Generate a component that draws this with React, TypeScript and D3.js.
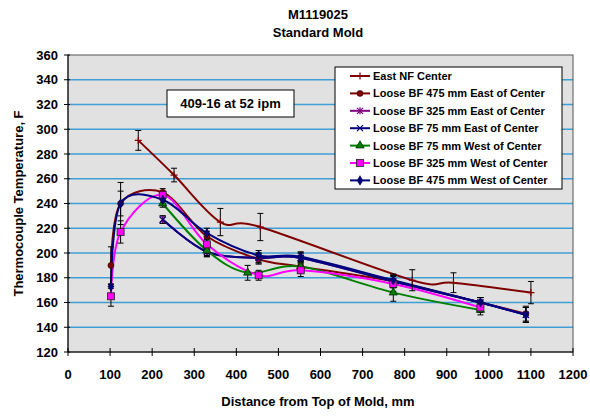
import React from 'react';
import * as d3 from 'd3';

const W = 590;
const H = 416;
const plot = { left: 68, right: 573, top: 55, bottom: 352 };

const xTicks = d3.range(0, 1201, 100);
const yTicks = d3.range(120, 361, 20);

// East NF Center
const eastNfX = [167, 252, 362, 457, 818, 916, 1100];
const eastNfY = [291, 263, 225, 221, 178, 176, 168];
const eastNfErr = [8, 5.5, 11, 11, 8.5, 8, 9];

// Loose BF 475 mm East of Center
const e475X = [102, 125, 225, 330, 453, 553, 773, 980, 1088];
const e475Y = [190, 240, 249, 213.5, 195, 189, 177, 160, 151];
const e475Err = [15, 17, 3, 4, 4, 4, 5, 4, 6];

// Loose BF 325 mm East of Center
const e325X = [225, 330, 453, 553, 773, 980, 1088];
const e325Y = [227, 201, 196, 196, 177, 160, 150];
const e325Err = [3, 4, 4, 4, 5, 4, 6];

// Loose BF 75 mm East of Center
const e75X = [225, 330, 453, 553, 773, 980, 1088];
const e75Y = [227, 201, 196, 196, 177, 160, 150];
const e75Err = [3, 4, 4, 4, 5, 4, 6];

// Loose BF 75 mm West of Center
const w75X = [225, 330, 427, 553, 773, 980];
const w75Y = [240, 202, 184, 189, 168, 154];
const w75Err = [3, 4, 6, 5, 7, 4];

// Loose BF 325 mm West of Center
const w325X = [102, 125, 225, 330, 453, 553, 773, 980];
const w325Y = [165, 217, 247, 207, 182, 186, 175, 156];
const w325Err = [8, 9, 3, 4, 4, 5, 6, 4];

// Loose BF 475 mm West of Center
const w475X = [102, 125, 225, 330, 453, 553, 773, 980, 1088];
const w475Y = [173, 240, 243, 216, 198, 197, 178, 160, 150];
const w475Err = [1.5, 10, 3, 4, 4, 4, 5, 4, 6];

const series = [
  { name: 'East NF Center', color: '#800000', marker: 'plus', xs: eastNfX, ys: eastNfY, errs: eastNfErr },
  { name: 'Loose BF 475 mm East of Center', color: '#800000', marker: 'circle', xs: e475X, ys: e475Y, errs: e475Err },
  { name: 'Loose BF 325 mm East of Center', color: '#800080', marker: 'star', xs: e325X, ys: e325Y, errs: e325Err },
  { name: 'Loose BF 75 mm East of Center', color: '#000080', marker: 'x', xs: e75X, ys: e75Y, errs: e75Err },
  { name: 'Loose BF 75 mm West of Center', color: '#008000', marker: 'triangle', xs: w75X, ys: w75Y, errs: w75Err },
  { name: 'Loose BF 325 mm West of Center', color: '#FF00FF', marker: 'square', xs: w325X, ys: w325Y, errs: w325Err },
  { name: 'Loose BF 475 mm West of Center', color: '#000080', marker: 'diamond', xs: w475X, ys: w475Y, errs: w475Err },
];

const font = 'Liberation Sans, Arial, sans-serif';

const Marker = ({ type, color, x, y }) => {
  const t = `translate(${x},${y})`;
  switch (type) {
    case 'plus':
      return <path transform={t} d="M-3.5,0H3.5M0,-3.5V3.5" stroke={color} strokeWidth={1.2} fill="none" />;
    case 'x':
      return <path transform={t} d="M-3,-3L3,3M-3,3L3,-3" stroke={color} strokeWidth={1.2} fill="none" />;
    case 'star':
      return <path transform={t} d="M-3,-3L3,3M-3,3L3,-3M0,-3.5V3.5" stroke={color} strokeWidth={1.2} fill="none" />;
    case 'circle':
      return <circle cx={x} cy={y} r={3} fill={color} stroke="#300000" strokeWidth={0.6} />;
    case 'square':
      return <rect x={x - 3.5} y={y - 3.5} width={7} height={7} fill={color} stroke="#202020" strokeWidth={0.8} />;
    case 'triangle':
      return <path transform={t} d={d3.symbol(d3.symbolTriangle, 30)()} fill={color} stroke="#002000" strokeWidth={0.7} />;
    case 'diamond':
      return <path transform={t} d={d3.symbol(d3.symbolDiamond, 26)()} fill={color} stroke="#000040" strokeWidth={0.6} />;
    default:
      return null;
  }
};

export default function App() {
  const x = d3.scaleLinear().domain([0, 1200]).range([plot.left, plot.right]);
  const y = d3.scaleLinear().domain([120, 360]).range([plot.bottom, plot.top]);

  // Excel-style smoothed lines
  const line = d3.line<number>().curve(d3.curveCardinal.tension(0));

  const legendX = 335;
  const legendY = 67;
  const rowH = 17.4;

  return (
    <div style={{ position: 'absolute', left: 0, top: 0 }}>
      <svg width={W} height={H} style={{ display: 'block', background: '#fff' }} fontFamily={font}>
        {/* titles */}
        <text x={318} y={19} textAnchor="middle" fontSize={13} fontWeight="bold">M1119025</text>
        <text x={318} y={37} textAnchor="middle" fontSize={13} fontWeight="bold">Standard Mold</text>

        {/* plot area */}
        <rect x={plot.left} y={plot.top} width={plot.right - plot.left} height={plot.bottom - plot.top} fill="#e1e1e1" />
        {yTicks.slice(1, -1).map((t) => (
          <line key={t} x1={plot.left} x2={plot.right} y1={y(t)} y2={y(t)} stroke="#3f9ed6" strokeWidth={1.5} />
        ))}
        <rect x={plot.left} y={plot.top} width={plot.right - plot.left} height={plot.bottom - plot.top} fill="none" stroke="#555" strokeWidth={1} />

        {/* axes */}
        <line x1={plot.left} x2={plot.left} y1={plot.top} y2={plot.bottom} stroke="#000" strokeWidth={1} />
        <line x1={plot.left} x2={plot.right} y1={plot.bottom} y2={plot.bottom} stroke="#000" strokeWidth={1} />
        {yTicks.map((t) => (
          <g key={t}>
            <line x1={plot.left - 4} x2={plot.left + 2} y1={y(t)} y2={y(t)} stroke="#000" />
            <text x={plot.left - 10} y={y(t) + 4.5} textAnchor="end" fontSize={13} fontWeight="bold">{t}</text>
          </g>
        ))}
        {xTicks.map((t) => (
          <g key={t}>
            <line x1={x(t)} x2={x(t)} y1={plot.bottom - 4} y2={plot.bottom + 4} stroke="#000" />
            <text x={x(t)} y={379} textAnchor="middle" fontSize={13} fontWeight="bold">{t}</text>
          </g>
        ))}
        <text x={318} y={406} textAnchor="middle" fontSize={13} fontWeight="bold">Distance from Top of Mold, mm</text>
        <text transform={`translate(23,${(plot.top + plot.bottom) / 2}) rotate(-90)`} textAnchor="middle" fontSize={13} fontWeight="bold">
          Thermocouple Temperature, F
        </text>

        {/* lines */}
        {series.map((s) => (
          <path
            key={s.name}
            d={line(s.xs.map((v, i) => [x(v), y(s.ys[i])]) as any) || ''}
            fill="none"
            stroke={s.color}
            strokeWidth={2}
          />
        ))}

        {/* error bars */}
        {series.map((s) =>
          s.xs.map((v, i) => {
            const px = x(v);
            const y1 = y(s.ys[i] - s.errs[i]);
            const y2 = y(s.ys[i] + s.errs[i]);
            return (
              <path
                key={s.name + i}
                d={`M${px},${y1}V${y2}M${px - 3},${y1}H${px + 3}M${px - 3},${y2}H${px + 3}`}
                stroke="#000"
                strokeWidth={1}
                fill="none"
              />
            );
          })
        )}

        {/* markers */}
        {series.map((s) =>
          s.xs.map((v, i) => <Marker key={s.name + 'm' + i} type={s.marker} color={s.color} x={x(v)} y={y(s.ys[i])} />)
        )}

        {/* annotation */}
        <rect x={167} y={90} width={127} height={27} fill="#fff" stroke="#000" strokeWidth={1} />
        <text x={230.5} y={108} textAnchor="middle" fontSize={13} fontWeight="bold">409-16 at 52 ipm</text>

        {/* legend */}
        <rect x={legendX} y={legendY} width={227} height={122} fill="#fff" stroke="#000" strokeWidth={1} />
        {series.map((s, i) => {
          const cy = legendY + 9 + i * rowH;
          return (
            <g key={s.name}>
              <line x1={350} x2={370} y1={cy} y2={cy} stroke={s.color} strokeWidth={2} />
              <Marker type={s.marker} color={s.color} x={360} y={cy} />
              <text x={373} y={cy + 4} fontSize={11} fontWeight="bold">{s.name}</text>
            </g>
          );
        })}
      </svg>
    </div>
  );
}
